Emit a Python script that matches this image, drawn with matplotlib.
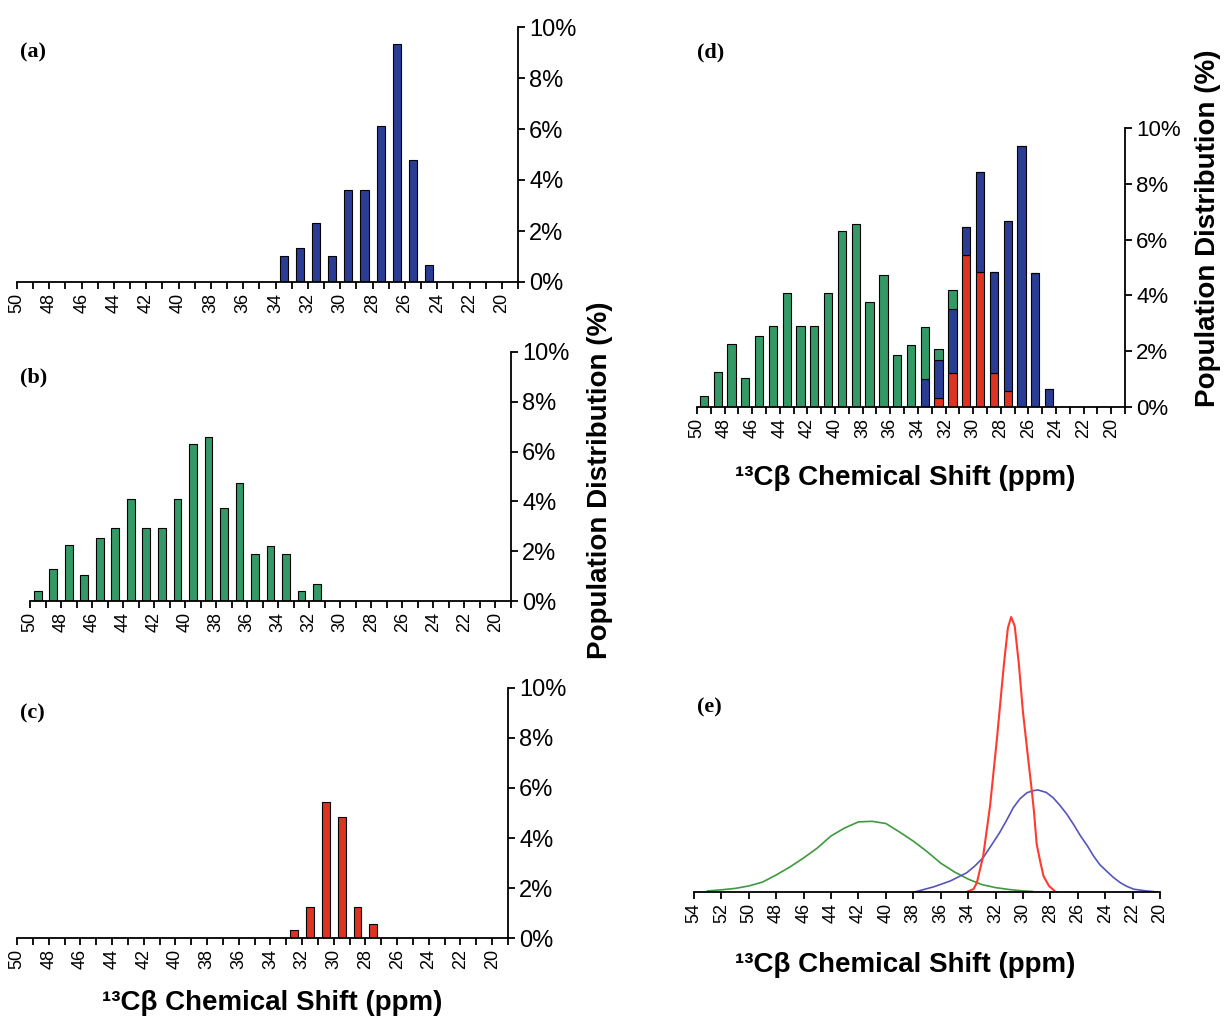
import matplotlib
matplotlib.use("Agg")
import matplotlib.pyplot as plt

# --- data ------------------------------------------------------------------
# histogram bins (ppm), 1 ppm wide, centred between the integer ticks
bins = [49.5 - i for i in range(31)]

# (a) blue population (%)
pop_a = [0, 0, 0, 0, 0, 0, 0, 0, 0, 0, 0, 0, 0, 0, 0, 0,
         1.0, 1.35, 2.3, 1.0, 3.6, 3.6, 6.1, 9.35, 4.8, 0.65,
         0, 0, 0, 0, 0]
# (b) green population (%)
pop_b = [0.41, 1.27, 2.25, 1.04, 2.54, 2.92, 4.1, 2.92, 2.92, 4.1,
         6.3, 6.57, 3.75, 4.73, 1.87, 2.22, 1.87, 0.40, 0.67,
         0, 0, 0, 0, 0, 0, 0, 0, 0, 0, 0, 0]
# (c) red population (%)
pop_c = [0, 0, 0, 0, 0, 0, 0, 0, 0, 0, 0, 0, 0, 0, 0, 0, 0,
         0.33, 1.23, 5.44, 4.84, 1.23, 0.57,
         0, 0, 0, 0, 0, 0, 0, 0]

# (e) fitted distributions, relative height (red peak = 1)
green_x = [53.1, 53, 52, 51, 50, 49, 48, 47, 46, 45, 44, 43, 42, 41, 40,
           39, 38, 37, 36, 35, 34, 33, 32, 31, 30, 29.3]
green_y = [0.0, 0.004, 0.008, 0.013, 0.022, 0.036, 0.062, 0.091, 0.124,
           0.16, 0.204, 0.233, 0.255, 0.257, 0.249, 0.218, 0.185, 0.147,
           0.105, 0.073, 0.047, 0.027, 0.016, 0.009, 0.004, 0.002]
blue_x = [37.9, 36.5, 35.3, 34.1, 33.5, 32.9, 32.3, 31.7, 31.2, 30.7, 30.2,
          29.7, 29.3, 28.9, 28.3, 27.8, 27.3, 26.8, 26.3, 25.8, 25.3, 24.85,
          24.4, 23.9, 23.4, 22.9, 22.4, 21.9, 21.0, 20.2]
blue_y = [0.0, 0.019, 0.04, 0.07, 0.095, 0.125, 0.17, 0.216, 0.26, 0.307,
          0.34, 0.361, 0.368, 0.371, 0.362, 0.343, 0.315, 0.283, 0.245,
          0.204, 0.168, 0.131, 0.10, 0.076, 0.053, 0.034, 0.02, 0.01,
          0.004, 0.0]
red_x = [34.1, 33.6, 33.36, 32.9, 32.4, 31.9, 31.4, 31.1, 30.86, 30.6,
         30.3, 30.0, 29.6, 29.35, 29.2, 29.0, 28.75, 28.5, 28.1, 27.6]
red_y = [0.0, 0.011, 0.034, 0.131, 0.313, 0.556, 0.822, 0.96, 1.0, 0.967,
         0.83, 0.655, 0.476, 0.367, 0.295, 0.175, 0.113, 0.058, 0.022, 0.0]

pct_ticks = [0, 2, 4, 6, 8, 10]
shift_ticks = list(range(50, 18, -1))
curve_ticks = list(range(54, 19, -2))

BLUE = "#2a3d94"
GREEN = "#339966"
RED = "#dd3322"

W, H = 1225, 1021
plt.rcParams["font.family"] = ["Liberation Sans", "DejaVu Sans"]

fig = plt.figure(figsize=(W / 100, H / 100), dpi=100)


def px_axes(x0, x1, y_top, y_bot):
    return fig.add_axes([x0 / W, 1 - y_bot / H, (x1 - x0) / W, (y_bot - y_top) / H])


def style_hist(ax, ytick_size=17):
    ax.set_xlim(50, 19)
    ax.set_ylim(0, 10)
    ax.set_xticks(shift_ticks)
    ax.set_xticklabels([str(t) if t % 2 == 0 else "" for t in shift_ticks],
                       rotation=90, fontsize=13)
    ax.set_yticks(pct_ticks)
    ax.set_yticklabels([f"{t}%" for t in pct_ticks], fontsize=ytick_size)
    ax.yaxis.tick_right()
    for s in ["left", "top"]:
        ax.spines[s].set_visible(False)
    for s in ["right", "bottom"]:
        ax.spines[s].set_linewidth(1.3)
    ax.tick_params(axis="both", direction="out", length=5, width=1.3, pad=3)
    ax.patch.set_alpha(0)


# (a)
ax_a = px_axes(17, 518, 27, 282)
ax_a.bar(bins, pop_a, width=0.5, color=BLUE, edgecolor="black", linewidth=0.8)
style_hist(ax_a)

# (b)
ax_b = px_axes(30, 511, 352, 601)
ax_b.bar(bins, pop_b, width=0.5, color=GREEN, edgecolor="black", linewidth=0.8)
style_hist(ax_b)

# (c)
ax_c = px_axes(17, 508, 688, 938)
ax_c.bar(bins, pop_c, width=0.5, color=RED, edgecolor="black", linewidth=0.8)
style_hist(ax_c)

# (d) stacked: red, blue, green
ax_d = px_axes(697, 1125, 128, 407)
base_ab = [c + a for a, c in zip(pop_a, pop_c)]
ax_d.bar(bins, pop_c, width=0.6, color=RED, edgecolor="black", linewidth=0.8)
ax_d.bar(bins, pop_a, width=0.6, bottom=pop_c, color=BLUE, edgecolor="black", linewidth=0.8)
ax_d.bar(bins, pop_b, width=0.6, bottom=base_ab, color=GREEN, edgecolor="black", linewidth=0.8)
style_hist(ax_d, ytick_size=16)

# (e) fitted curves
ax_e = px_axes(694, 1160, 600, 892)
ax_e.plot(green_x, green_y, color="#3d9a3d", lw=1.2)
ax_e.plot(blue_x, blue_y, color="#5555bb", lw=1.2)
ax_e.plot(red_x, red_y, color="#ff3b2f", lw=1.5)
ax_e.set_xlim(54, 20)
ax_e.set_ylim(0, 292 / 275)
ax_e.set_xticks(curve_ticks)
ax_e.set_xticklabels([str(t) for t in curve_ticks], rotation=90, fontsize=13)
ax_e.set_yticks([])
for s in ["left", "top", "right"]:
    ax_e.spines[s].set_visible(False)
ax_e.spines["bottom"].set_linewidth(1.3)
ax_e.tick_params(axis="x", direction="out", length=5, width=1.3, pad=3)
ax_e.patch.set_alpha(0)

# panel letters
for lbl, x, y in [("(a)", 20, 52), ("(b)", 20, 377), ("(c)", 20, 713),
                  ("(d)", 697, 52), ("(e)", 697, 707)]:
    fig.text(x / W, 1 - y / H, lbl, ha="left", va="center",
             family="Liberation Serif", weight="bold", fontsize=16)

# axis titles
xlab = "\u00b9\u00b3C\u03b2 Chemical Shift (ppm)"
for x, y in [(272, 1003), (905, 478), (905, 965)]:
    fig.text(x / W, 1 - y / H, xlab, ha="center", va="center",
             weight="bold", fontsize=20)

ylab = "Population Distribution (%)"
fig.text(600 / W, 1 - 480 / H, ylab, ha="center", va="center", rotation=90,
         weight="bold", fontsize=20)
fig.text(1208 / W, 1 - 228 / H, ylab, ha="center", va="center", rotation=90,
         weight="bold", fontsize=20)

fig.savefig("out.png", dpi=100)
